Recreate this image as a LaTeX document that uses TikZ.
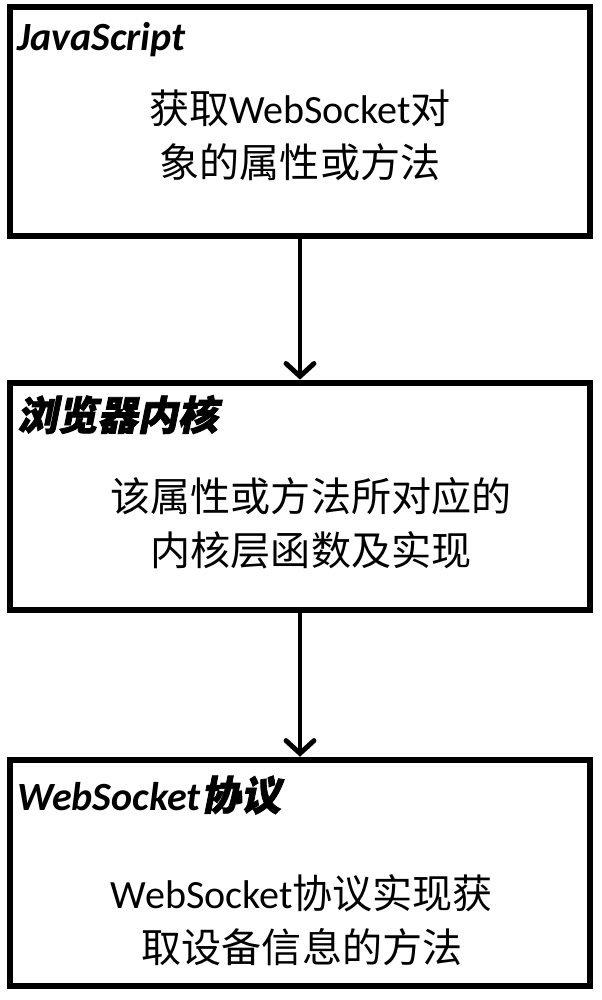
\documentclass[tikz,border=0pt]{standalone}
\usepackage{fontspec}
\setmainfont{Carlito}
\newfontfamily\cjk{Noto Sans CJK SC}
\newfontfamily\cjkbi{Noto Sans CJK SC}[FakeSlant=0.2,FakeBold=2]
\usetikzlibrary{arrows.meta}

\begin{document}
\begin{tikzpicture}[x=0.025cm, y=-0.025cm,
  layer/.style={draw, line width=4.6pt, minimum width=14.5cm, inner sep=0pt},
  title/.style={anchor=base west, inner sep=0pt, font=\fontsize{28.5}{34}\selectfont\bfseries\itshape},
  body/.style={align=center, inner sep=0pt, font=\fontsize{28.5}{38.5}\selectfont},
  flow/.style={line width=3.5pt, -{Straight Barb[length=3.2mm, width=7mm, line cap=round]}}]
\useasboundingbox (0,0) rectangle (601,1000);
\node[layer, minimum height=5.72cm] (js) at (300,121.5) {};
\node[layer, minimum height=5.68cm] (core) at (300,496.5) {};
\node[layer, minimum height=5.65cm] (ws) at (300,873) {};
\node[title] (jst) at (17,50) {JavaScript};
\node[title] (coret) at (17,430) {\cjkbi 浏览器内核};
\node[title] (wst) at (17,810) {WebSocket{\cjkbi 协议}};
\node[body] (jsb) at (300,135) {{\cjk 获取}WebSocket{\cjk 对}\\{\cjk 象的属性或方法}};
\node[body] (coreb) at (311,523) {\cjk 该属性或方法所对应的\\\cjk 内核层函数及实现};
\node[body] (wsb) at (302,920) {WebSocket{\cjk 协议实现获}\\{\cjk 取设备信息的方法}};
\draw[flow] (js) -- (core);
\draw[flow] (core) -- (ws);
\end{tikzpicture}
\end{document}
